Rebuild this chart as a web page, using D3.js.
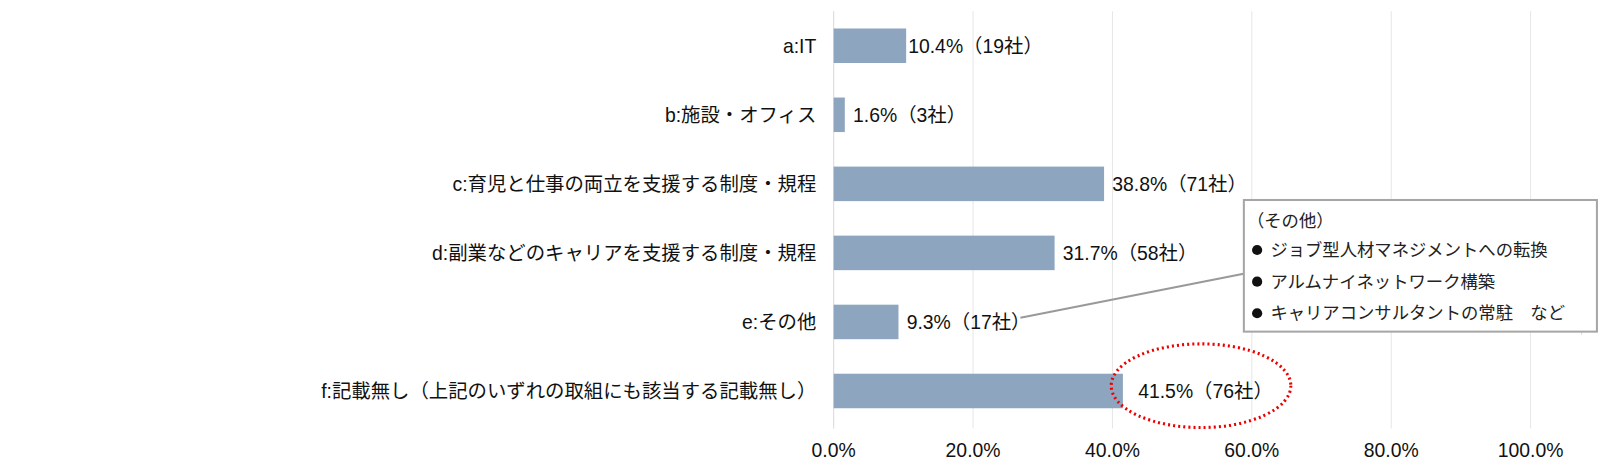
<!DOCTYPE html>
<html><head><meta charset="utf-8">
<script src="https://cdn.jsdelivr.net/npm/d3@7"></script>
<style>body{margin:0;background:#fff}text{font-family:"Liberation Sans","Noto Sans CJK JP",sans-serif}</style>
</head><body><svg id="c" width="1600" height="464"></svg>
<script>
const categories = ["a:IT", "b:施設・オフィス", "c:育児と仕事の両立を支援する制度・規程", "d:副業などのキャリアを支援する制度・規程", "e:その他", "f:記載無し（上記のいずれの取組にも該当する記載無し）"];
const values = [10.4, 1.6, 38.8, 31.7, 9.3, 41.5];
const counts = [19, 3, 71, 58, 17, 76];
const ticks = [0, 20, 40, 60, 80, 100];
const noteLines = ["ジョブ型人材マネジメントへの転換", "アルムナイネットワーク構築", "キャリアコンサルタントの常駐　など"];

const svg = d3.select("#c").append("g").attr("transform", "scale(1.0204)");
const x = d3.scaleLinear().domain([0, 100]).range([817, 1500]);
const y = d3.scaleBand().domain(categories).range([11, 417]).paddingInner(0.5).paddingOuter(0.25);

// grid
svg.append("g").selectAll("line").data(ticks.slice(1)).join("line")
  .attr("x1", d => x(d)).attr("x2", d => x(d)).attr("y1", 11).attr("y2", 420)
  .attr("stroke", "#e6e6e6").attr("stroke-width", 1);
svg.append("line").attr("x1", 1550).attr("x2", 1550).attr("y1", 200).attr("y2", 328).attr("stroke", "#d9d9d9");
svg.append("line").attr("x1", x(0)).attr("x2", x(0)).attr("y1", 11).attr("y2", 420).attr("stroke", "#d9d9d9");

// bars
svg.append("g").selectAll("rect").data(values).join("rect")
  .attr("x", x(0)).attr("y", (d, i) => y(categories[i]))
  .attr("width", d => x(d) - x(0)).attr("height", y.bandwidth())
  .attr("fill", "#8ea5bf");

// category labels
svg.append("g").selectAll("text").data(categories).join("text")
  .attr("x", 800).attr("y", d => y(d) + y.bandwidth() / 2).attr("dy", "0.35em")
  .attr("text-anchor", "end").attr("font-size", 19).attr("fill", "#111").text(d => d);

// value labels
svg.append("g").selectAll("text").data(values).join("text")
  .attr("x", (d, i) => x(d) + (i === 5 ? 15 : i === 0 ? 2 : 8))
  .attr("y", (d, i) => y(categories[i]) + y.bandwidth() / 2).attr("dy", "0.35em")
  .attr("font-size", 19).attr("fill", "#111")
  .text((d, i) => `${d.toFixed(1)}%（${counts[i]}社）`);

// x axis labels
svg.append("g").selectAll("text").data(ticks).join("text")
  .attr("x", d => x(d)).attr("y", 448).attr("text-anchor", "middle")
  .attr("font-size", 19).attr("fill", "#111").text(d => d.toFixed(1) + "%");

// ellipse highlight
svg.append("ellipse").attr("cx", 1177).attr("cy", 378).attr("rx", 88).attr("ry", 41)
  .attr("fill", "none").attr("stroke", "#e00").attr("stroke-width", 3).attr("stroke-dasharray", "2 3");

// callout
const ey = y(categories[4]) + y.bandwidth() / 2;
svg.append("line").attr("x1", 1000).attr("y1", ey - 4).attr("x2", 1220).attr("y2", 268)
  .attr("stroke", "#999").attr("stroke-width", 2);
svg.append("rect").attr("x", 1219).attr("y", 196).attr("width", 346).attr("height", 129)
  .attr("fill", "#fff").attr("stroke", "#a6a6a6").attr("stroke-width", 2);
svg.append("text").attr("x", 1222).attr("y", 222).attr("font-size", 17).attr("fill", "#222")
  .style("font-family", "Noto Sans CJK JP").text("（その他）");
const note = svg.append("g").selectAll("g").data(noteLines).join("g")
  .attr("transform", (d, i) => `translate(1232,${251 + i * 31})`);
note.append("circle").attr("r", 5).attr("cx", 0).attr("cy", -6).attr("fill", "#111");
note.append("text").attr("x", 13).attr("font-size", 17).attr("fill", "#222")
  .style("font-family", "Noto Sans CJK JP").text(d => d);
</script></body></html>
